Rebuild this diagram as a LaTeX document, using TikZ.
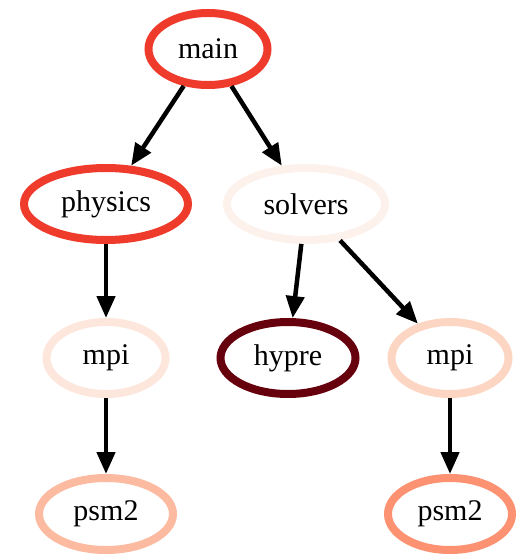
\documentclass[tikz,border=0pt]{standalone}
\usepackage{fontspec}
\setmainfont{Liberation Serif}
\usetikzlibrary{shapes.geometric,arrows.meta}

\definecolor{redA}{HTML}{EF3B2C}
\definecolor{redB}{HTML}{FDF1EC}
\definecolor{redC}{HTML}{FDE6DC}
\definecolor{redD}{HTML}{FDD5C3}
\definecolor{redE}{HTML}{FCBBA1}
\definecolor{redF}{HTML}{FC9272}
\definecolor{redG}{HTML}{67000D}

\begin{document}
\begin{tikzpicture}[x=1pt, y=-1pt,
  pkg/.style={ellipse, draw, line width=8pt, inner sep=0pt, minimum height=72pt,
    font=\fontsize{30}{35}\selectfont},
  dep/.style={-{Triangle[length=22pt,width=18pt]}, line width=4.5pt}]
\useasboundingbox (0,0) rectangle (524,559);

% packages
\node[pkg, draw=redA, minimum width=119pt] (main) at (208,49) {main};
\node[pkg, draw=redA, minimum width=164pt] (physics) at (106,204) {physics};
\node[pkg, draw=redB, minimum width=158pt] (solvers) at (306,204) {solvers};
\node[pkg, draw=redC, minimum width=119pt] (mpiA) at (106,358) {mpi};
\node[pkg, draw=redG, minimum width=135pt] (hypre) at (288,358) {hypre};
\node[pkg, draw=redD, minimum width=117pt] (mpiB) at (450,358) {mpi};
\node[pkg, draw=redE, minimum width=134pt] (psmA) at (106,514) {psm2};
\node[pkg, draw=redF, minimum width=124pt] (psmB) at (450,514) {psm2};

% dependencies
\draw[dep] (main) -- (physics);
\draw[dep] (main) -- (solvers);
\draw[dep] (physics) -- (mpiA);
\draw[dep] (solvers) -- (hypre);
\draw[dep] (solvers) -- (mpiB);
\draw[dep] (mpiA) -- (psmA);
\draw[dep] (mpiB) -- (psmB);
\end{tikzpicture}
\end{document}
